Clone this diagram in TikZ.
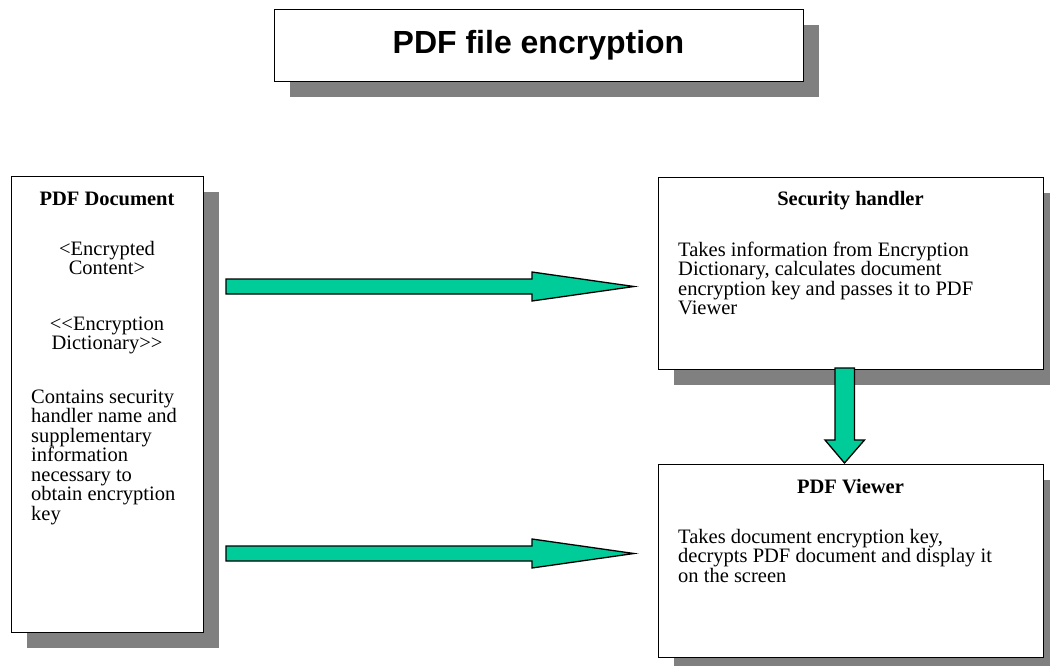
\documentclass[tikz,border=0pt]{standalone}
\usepackage{fontspec}
\setmainfont{Liberation Serif}
\newfontfamily\titlefont{Liberation Sans}
\usetikzlibrary{shadows}
\definecolor{arrowgreen}{RGB}{0,204,153}
\definecolor{shadowgray}{RGB}{128,128,128}
\tikzset{
  box/.style={draw=black, line width=1pt, fill=white, inner sep=0pt,
    drop shadow={shadow xshift=16pt, shadow yshift=-16pt, fill=shadowgray, opacity=1}},
  bodytext/.style={font=\fontsize{20.5}{19.5}\selectfont, inner sep=0pt, anchor=base},
  headtext/.style={bodytext, font=\fontsize{20.5}{19.5}\selectfont\bfseries},
  blockarrow/.style={draw=black, line width=1.3pt, fill=arrowgreen, line join=miter},
}
\begin{document}
\begin{tikzpicture}[x=1pt,y=-1pt]
            \useasboundingbox (0,0) rectangle (1050,665);
            \node[box, minimum width=529pt, minimum height=72pt, font=\titlefont\bfseries\fontsize{32}{38}\selectfont] (title) at (538.5,45) {PDF file encryption};
            \node[box, minimum width=192pt, minimum height=456pt] (doc) at (107,404) {};
            \node[box, minimum width=385pt, minimum height=192pt] (handler) at (850.5,273) {};
            \node[box, minimum width=385pt, minimum height=193pt] (viewer) at (850.5,560.5) {};
            \node[headtext] (dochead) at (107,205) {PDF Document};
            \node[bodytext] (doccontent1) at (107,255) {<Encrypted};
            \node[bodytext] (doccontent2) at (107,274.5) {Content>};
            \node[bodytext] (docdict1) at (107,330) {<\kern0pt<Encryption};
            \node[bodytext] (docdict2) at (107,349.5) {Dictionary>\kern0pt>};
            \foreach \txt [count=\i from 0] in {Contains security, handler name and, supplementary, information, necessary to, obtain encryption, key}
              \node[bodytext, anchor=base west] (docline\i) at (31,403+19.5*\i) {\txt};
            \node[headtext] (handlerhead) at (850.5,205) {Security handler};
            \foreach \txt [count=\i from 0] in {Takes information from Encryption, {Dictionary, calculates document}, encryption key and passes it to PDF, Viewer}
              \node[bodytext, anchor=base west] (handlerline\i) at (678,256+19.5*\i) {\txt};
            \node[headtext] (viewerhead) at (850.5,493) {PDF Viewer};
            \foreach \txt [count=\i from 0] in {{Takes document encryption key,}, decrypts PDF document and display it, on the screen}
              \node[bodytext, anchor=base west] (viewerline\i) at (678,543+19.5*\i) {\txt};
            \coordinate (keystart) at (226,286.5);
            \coordinate (keytip) at (634,286.5);
            \coordinate (datastart) at (226,553.5);
            \coordinate (datatip) at (634,553.5);
            \coordinate (passstart) at (844.5,368);
            \coordinate (passtip) at (844.5,463);
            \draw[blockarrow] (keystart) ++(0,-7.5) -- ++(306,0) -- ++(0,-7) -- (keytip) -- ++(-102,14.5) -- ++(0,-7) -- ++(-306,0) -- cycle;
            \draw[blockarrow] (datastart) ++(0,-7.5) -- ++(306,0) -- ++(0,-7) -- (datatip) -- ++(-102,14.5) -- ++(0,-7) -- ++(-306,0) -- cycle;
            \draw[blockarrow] (passstart) ++(-9.5,0) -- ++(0,72) -- ++(-10,0) -- (passtip) -- ++(20,-23) -- ++(-10,0) -- ++(0,-72) -- cycle;
        \end{tikzpicture}
\end{document}
